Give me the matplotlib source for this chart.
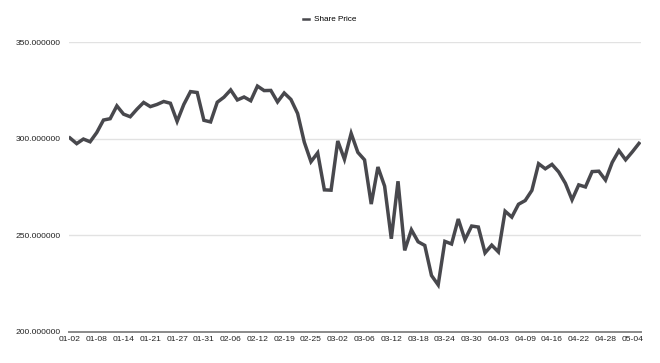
import matplotlib.pyplot as plt

# trading days shown, labels every 4th day
dates = ['01-02', '01-03', '01-06', '01-07', '01-08', '01-09', '01-10', '01-13', '01-14', '01-15',
         '01-16', '01-17', '01-21', '01-22', '01-23', '01-24', '01-27', '01-28', '01-29', '01-30',
         '01-31', '02-03', '02-04', '02-05', '02-06', '02-07', '02-10', '02-11', '02-12', '02-13',
         '02-14', '02-18', '02-19', '02-20', '02-21', '02-24', '02-25', '02-26', '02-27', '02-28',
         '03-02', '03-03', '03-04', '03-05', '03-06', '03-09', '03-10', '03-11', '03-12', '03-13',
         '03-16', '03-17', '03-18', '03-19', '03-20', '03-23', '03-24', '03-25', '03-26', '03-27',
         '03-30', '03-31', '04-01', '04-02', '04-03', '04-06', '04-07', '04-08', '04-09', '04-13',
         '04-14', '04-15', '04-16', '04-17', '04-20', '04-21', '04-22', '04-23', '04-24', '04-27',
         '04-28', '04-29', '04-30', '05-01', '05-04', '05-05']

share_price = [300.35, 297.43, 299.80, 298.39, 303.19, 309.63, 310.33, 316.96, 312.68, 311.34,
               315.24, 318.73, 316.57, 317.70, 319.23, 318.31, 308.95, 317.69, 324.34, 323.87,
               309.51, 308.66, 318.85, 321.45, 325.21, 320.03, 321.55, 319.61, 327.20, 324.87,
               324.95, 319.00, 323.62, 320.30, 313.05, 298.18, 288.08, 292.65, 273.52, 273.36,
               298.81, 289.32, 302.74, 292.92, 289.03, 266.17, 285.34, 275.43, 248.23, 277.97,
               242.21, 252.86, 246.67, 244.78, 229.24, 224.37, 246.88, 245.52, 258.44, 247.74,
               254.81, 254.29, 240.91, 244.93, 241.41, 262.47, 259.43, 266.07, 267.99, 273.25,
               287.05, 284.43, 286.69, 282.80, 276.93, 268.37, 276.10, 275.03, 282.97, 283.17,
               278.58, 287.73, 293.80, 289.07, 293.16, 297.56]

y_ticks = [200, 250, 300, 350]

plt.rcParams['font.family'] = ['Liberation Sans', 'DejaVu Sans']

fig = plt.figure(figsize=(6.6, 3.63), dpi=100)
ax = fig.add_axes([69 / 660, 31 / 363, 572 / 660, 290 / 363])

x = list(range(len(dates)))
ax.plot(x, share_price, color='#48484d', linewidth=2.5, label='Share Price',
        solid_joinstyle='miter', zorder=3)

ax.set_ylim(200, 350)
ax.set_xlim(-0.15, 85.3)
ax.set_yticks(y_ticks)
ax.set_yticklabels(['%.6f' % v for v in y_ticks])
ax.set_xticks(x[::4])
ax.set_xticklabels(dates[::4])

ax.grid(axis='y', color='#e2e2e2', linewidth=1.0)
ax.set_axisbelow(True)
for s in ['top', 'right', 'left']:
    ax.spines[s].set_visible(False)
ax.spines['bottom'].set_color('#8a8a8a')
ax.spines['bottom'].set_linewidth(1.4)
ax.tick_params(axis='both', length=0, labelsize=6.1, colors='#222222')
ax.tick_params(axis='y', pad=6)
ax.tick_params(axis='x', pad=3)

leg = ax.legend(loc='upper center', bbox_to_anchor=(0.5, 0.977), bbox_transform=fig.transFigure,
                frameon=False, fontsize=5.9, handlelength=0.7, handletextpad=0.6)
leg.get_lines()[0].set_linewidth(1.8)

fig.savefig('out.png', dpi=100)
